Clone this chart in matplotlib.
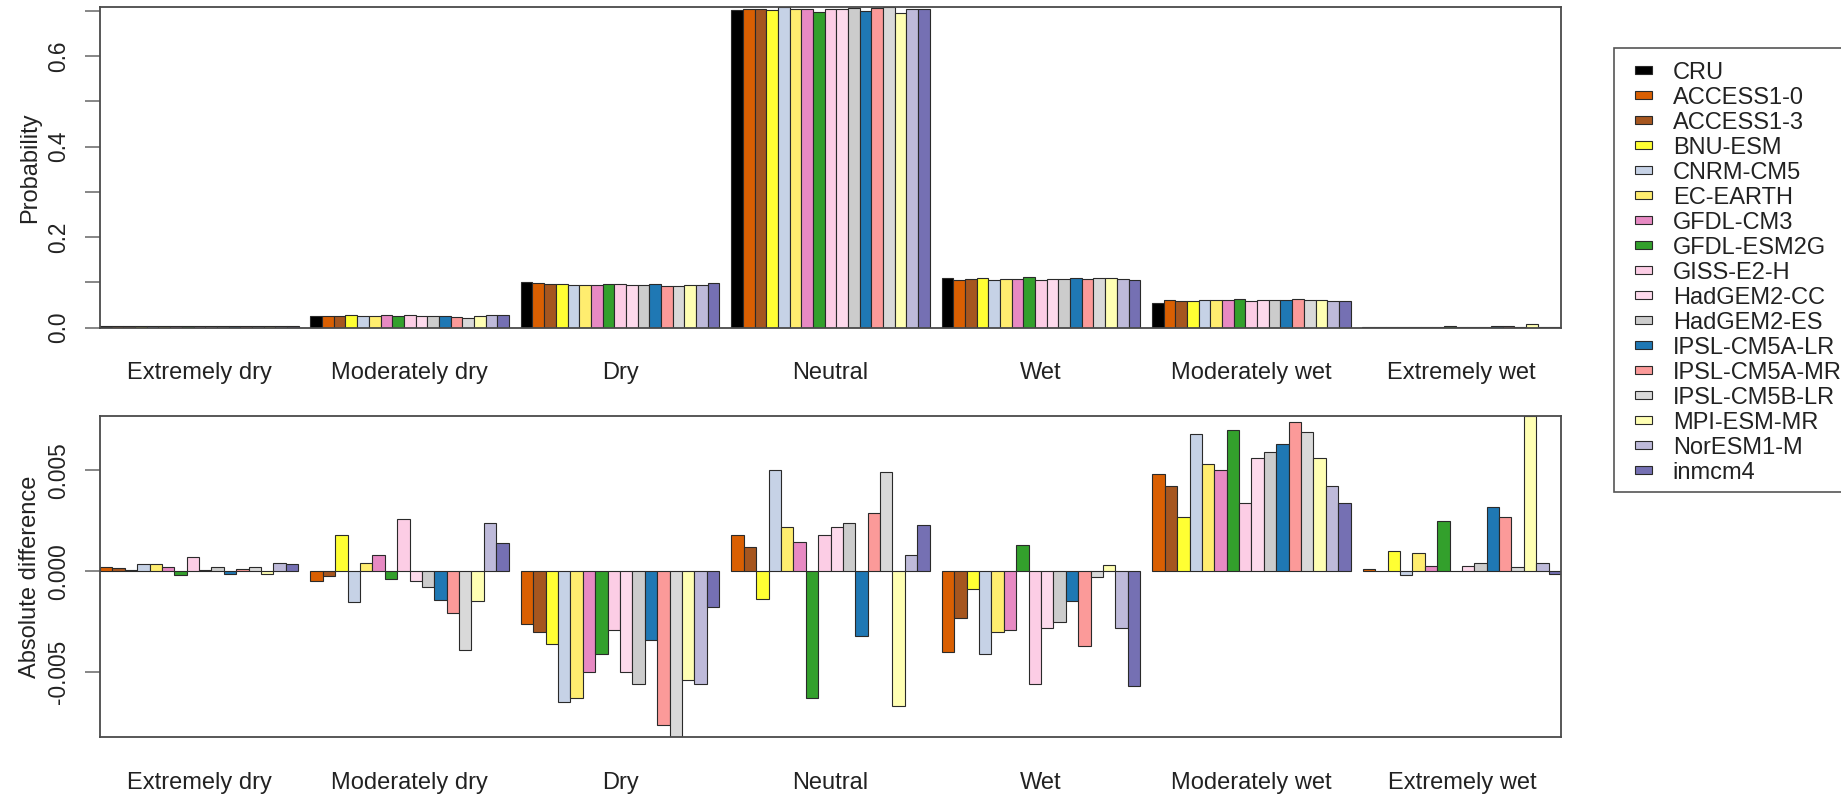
import numpy as np
import matplotlib
matplotlib.use("Agg")
import matplotlib.pyplot as plt
from matplotlib.patches import Rectangle
from matplotlib import transforms

plt.rcParams['font.family'] = ['Liberation Sans', 'DejaVu Sans']

categories = ["Extremely dry", "Moderately dry", "Dry", "Neutral", "Wet",
              "Moderately wet", "Extremely wet"]

sources = ["CRU", "ACCESS1-0", "ACCESS1-3", "BNU-ESM", "CNRM-CM5", "EC-EARTH",
           "GFDL-CM3", "GFDL-ESM2G", "GISS-E2-H", "HadGEM2-CC", "HadGEM2-ES",
           "IPSL-CM5A-LR", "IPSL-CM5A-MR", "IPSL-CM5B-LR", "MPI-ESM-MR",
           "NorESM1-M", "inmcm4"]

colors = ["#000000", "#D95F02", "#A6561F", "#FFFF33", "#C6D2E6", "#FFED6F",
          "#E78AC3", "#33A02C", "#FCCDE5", "#FDDAEC", "#CCCCCC", "#1F78B4",
          "#FB9A99", "#D9D9D9", "#FFFFB3", "#BEBADA", "#7570B3"]

# Probability of each class (CRU first, then the 16 models)
prob_ext_dry = [0.0025, 0.0027, 0.0027, 0.0026, 0.0028, 0.0029, 0.0027, 0.0023, 0.0032,
                0.0026, 0.0027, 0.0024, 0.0026, 0.0027, 0.0024, 0.0029, 0.0028]
prob_mod_dry = [0.0260, 0.0255, 0.0258, 0.0278, 0.0245, 0.0264, 0.0268, 0.0256, 0.0286,
                0.0255, 0.0252, 0.0246, 0.0239, 0.0221, 0.0245, 0.0284, 0.0274]
prob_dry = [0.1000, 0.0974, 0.0970, 0.0964, 0.0935, 0.0937, 0.0950, 0.0959, 0.0971,
            0.0950, 0.0944, 0.0966, 0.0924, 0.0918, 0.0946, 0.0944, 0.0982]
prob_neutral = [0.7029, 0.7047, 0.7041, 0.7015, 0.7079, 0.7051, 0.7044, 0.6966, 0.7047,
                0.7051, 0.7053, 0.6997, 0.7058, 0.7078, 0.6962, 0.7037, 0.7052]
prob_wet = [0.1100, 0.1060, 0.1077, 0.1091, 0.1059, 0.1070, 0.1071, 0.1113, 0.1044,
            0.1072, 0.1075, 0.1085, 0.1063, 0.1097, 0.1103, 0.1072, 0.1043]
prob_mod_wet = [0.0550, 0.0598, 0.0592, 0.0577, 0.0618, 0.0603, 0.0600, 0.0620, 0.0584,
                0.0606, 0.0609, 0.0613, 0.0624, 0.0619, 0.0606, 0.0592, 0.0584]
prob_ext_wet = [0.0008, 0.0009, 0.0008, 0.0018, 0.0006, 0.0017, 0.0011, 0.0033, 0.0008,
                0.0011, 0.0012, 0.0040, 0.0035, 0.0010, 0.0085, 0.0012, 0.0007]

# Absolute difference model - CRU (16 models, no CRU)
diff_ext_dry = [0.0002, 0.00017, 0.00008, 0.00033, 0.00035, 0.0002, -0.0002, 0.00068,
                0.00008, 0.0002, -0.00015, 0.00013, 0.0002, -0.00012, 0.00038, 0.00033]
diff_mod_dry = [-0.0005, -0.00025, 0.0018, -0.00155, 0.00038, 0.0008, -0.0004, 0.00256,
                -0.0005, -0.0008, -0.00144, -0.00206, -0.0039, -0.0015, 0.0024, 0.0014]
diff_dry = [-0.0026, -0.0030, -0.0036, -0.0065, -0.0063, -0.0050, -0.0041, -0.0029,
            -0.0050, -0.0056, -0.0034, -0.0076, -0.00823, -0.0054, -0.0056, -0.0018]
diff_neutral = [0.0018, 0.0012, -0.0014, 0.0050, 0.0022, 0.00145, -0.0063, 0.0018,
                0.0022, 0.0024, -0.0032, 0.0029, 0.0049, -0.0067, 0.0008, 0.0023]
diff_wet = [-0.0040, -0.0023, -0.0009, -0.0041, -0.0030, -0.0029, 0.0013, -0.0056,
            -0.0028, -0.0025, -0.0015, -0.0037, -0.0003, 0.0003, -0.0028, -0.0057]
diff_mod_wet = [0.0048, 0.0042, 0.0027, 0.0068, 0.0053, 0.0050, 0.0070, 0.0034,
                0.0056, 0.0059, 0.0063, 0.0074, 0.0069, 0.0056, 0.0042, 0.0034]
diff_ext_wet = [0.0001, 0.00002, 0.0010, -0.0002, 0.0009, 0.00026, 0.0025, 0.00001,
                0.00026, 0.00038, 0.0032, 0.0027, 0.0002, 0.0077, 0.00038, -0.00012]

prob_groups = [prob_ext_dry, prob_mod_dry, prob_dry, prob_neutral, prob_wet,
               prob_mod_wet, prob_ext_wet]
diff_groups = [diff_ext_dry, diff_mod_dry, diff_dry, diff_neutral, diff_wet,
               diff_mod_wet, diff_ext_wet]

prob_ticks = [0.0, 0.1, 0.2, 0.3, 0.4, 0.5, 0.6, 0.7]
prob_ticklabels = ["0.0", "", "0.2", "", "0.4", "", "0.6", ""]
diff_ticks = [-0.005, 0.0, 0.005]
diff_ticklabels = ["-0.005", "0.000", "0.005"]

W, H = 1841, 795
fig = plt.figure(figsize=(W / 100, H / 100), dpi=100)

def fx(px):
    return px / W

def fy(py):
    return 1 - py / H

left_px, right_px = 100, 1561
ax1 = fig.add_axes([fx(left_px), fy(327.5), fx(right_px - left_px), (327.5 - 7.3) / H])
ax2 = fig.add_axes([fx(left_px), fy(737.3), fx(right_px - left_px), (737.3 - 415.7) / H])

TXT = "#222222"
SPINE = "#4a4a4a"

def draw(ax, groups, cols, ticks, ticklabels, ylabel):
    n = len(cols)
    for g, vals in enumerate(groups):
        lefts = g * (n + 1) + 1 + np.arange(n)
        ax.bar(lefts, vals, width=1.0, align='edge', color=cols,
               edgecolor="#2a2a2a", linewidth=0.8, zorder=2)
    ax.set_xlim(1, len(groups) * (n + 1))
    allv = np.concatenate([np.asarray(v, float) for v in groups])
    ax.set_ylim(min(0.0, allv.min()), allv.max())
    ax.set_yticks(ticks)
    ax.set_yticklabels(ticklabels, rotation=90, va='center', ha='right')
    ax.tick_params(axis='y', length=10.8, width=1.1, color="#666666", pad=10.5,
                   labelsize=16.3, labelcolor=TXT)
    ax.set_xticks([])
    for s in ax.spines.values():
        s.set_color(SPINE)
        s.set_linewidth(1.3)
        s.set_zorder(3)
    trans = transforms.offset_copy(ax.get_xaxis_transform(), fig=fig, y=-51.5, units='dots')
    for g, name in enumerate(categories):
        xc = g * (n + 1) + 1 + n / 2
        ax.text(xc, 0, name, transform=trans, ha='center', va='baseline',
                fontsize=17, color=TXT)
    bb = ax.get_position()
    fig.text(fx(36), (bb.y0 + bb.y1) / 2, ylabel, rotation=90, rotation_mode='anchor',
             ha='center', va='baseline', fontsize=17, color=TXT)

draw(ax1, prob_groups, colors, prob_ticks, prob_ticklabels, "Probability")
draw(ax2, diff_groups, colors[1:], diff_ticks, diff_ticklabels, "Absolute difference")

# Legend (drawn in pixel positions, partially cut by the right edge like the original)
fig.add_artist(Rectangle((fx(1614), fy(491.7)), fx(1960 - 1614), (491.7 - 48.3) / H,
                         transform=fig.transFigure, facecolor='white',
                         edgecolor="#555555", linewidth=1.2))
for i, (name, col) in enumerate(zip(sources, colors)):
    yc = 70.3 + 25.0 * i
    fig.add_artist(Rectangle((fx(1635), fy(yc + 4)), fx(17), 8 / H,
                             transform=fig.transFigure, facecolor=col,
                             edgecolor="#2a2a2a", linewidth=0.8))
    fig.text(fx(1672.7), fy(yc + 8.5), name, ha='left', va='baseline',
             fontsize=17, color=TXT)

fig.savefig("out.png", dpi=100)
